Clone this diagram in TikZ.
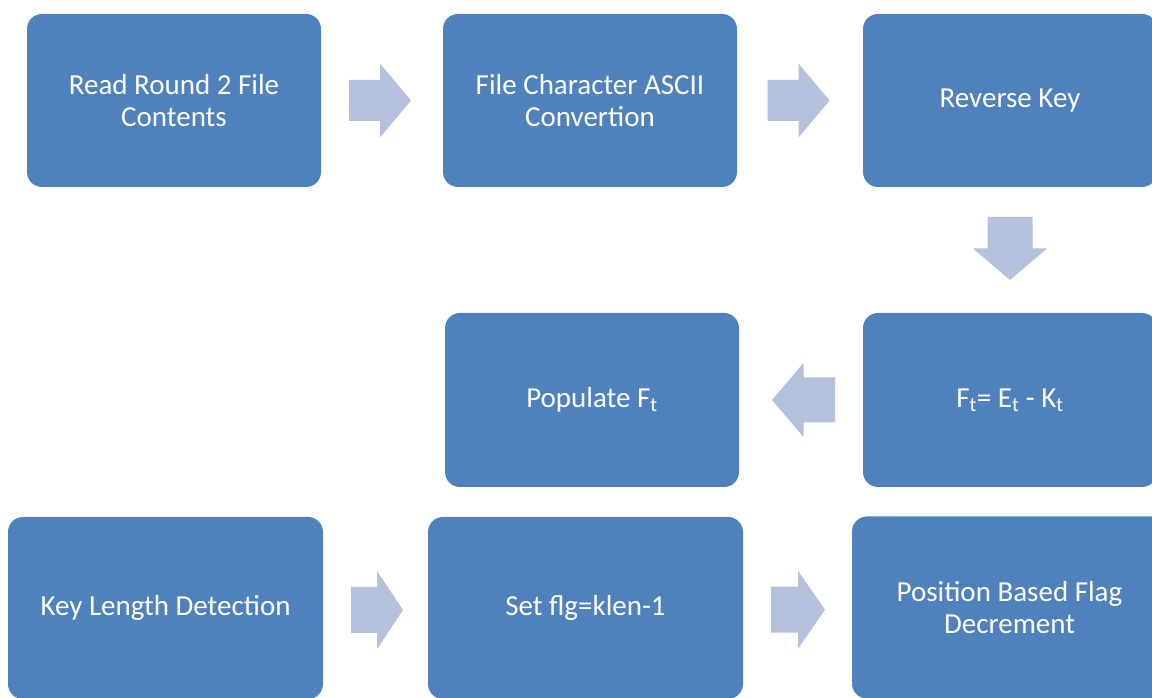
\documentclass[tikz,border=0pt]{standalone}
\usepackage{fontspec}
\setmainfont{Carlito}
\usetikzlibrary{calc}

\definecolor{boxblue}{HTML}{4F81BD}
\definecolor{arrowblue}{HTML}{B3C1DD}

\tikzset{
  stepbox/.style={rectangle, rounded corners=15pt, fill=boxblue, draw=none,
    text=white, align=center, inner sep=0pt,
    font=\fontsize{29}{32}\selectfont},
  % block arrow pointing along +x: half length, shaft half width, head half width
  pics/blockarrow/.style n args={3}{code={
    \fill[arrowblue] (-#1,-#2) -- (0,-#2) -- (0,-#3) -- (#1,0)
      -- (0,#3) -- (0,#2) -- (-#1,#2) -- cycle;
  }}
}

\begin{document}
\begin{tikzpicture}[x=1pt,y=1pt]
\useasboundingbox (0,0) rectangle (1152,698);
\clip (0,0) rectangle (1152,698);

% first row
\node[stepbox, minimum width=294pt, minimum height=173pt] (read) at (174,597.5)
  {Read Round 2 File\\Contents};
\node[stepbox, minimum width=294pt, minimum height=173pt] (ascii) at (590,597.5)
  {File Character ASCII\\Convertion};
\node[stepbox, minimum width=294pt, minimum height=173pt] (rev) at (1010,597.5)
  {Reverse Key};

% second row
\node[stepbox, minimum width=294pt, minimum height=174pt] (pop) at (592,298)
  {Populate F\textsubscript{t}};
\node[stepbox, minimum width=294pt, minimum height=174pt] (sub) at (1010,298)
  {F\textsubscript{t}= E\textsubscript{t} - K\textsubscript{t}};

% third row
\node[stepbox, minimum width=315pt, minimum height=182pt] (klen) at (165.5,90)
  {Key Length Detection};
\node[stepbox, minimum width=315pt, minimum height=182pt] (flg) at (585.5,90)
  {Set flg=klen-1};
\node[stepbox, minimum width=315pt, minimum height=182pt] (dec) at (1009.5,90.5)
  {Position Based Flag\\Decrement};

% block arrows between the steps
\pic at ($(read.east)!0.5!(ascii.west)+(-2,0)$) {blockarrow={31}{20.5}{37}};
\pic at ($(ascii.east)!0.5!(rev.west)+(-1.5,0)$) {blockarrow={31}{20.5}{37}};
\pic[rotate=-90] at ($(rev.south)!0.5!(sub.north)+(0,1.5)$) {blockarrow={31.5}{22.5}{37}};
\pic[rotate=180] at ($(sub.west)!0.5!(pop.east)+(2.5,0)$) {blockarrow={31.5}{22.5}{37}};
\pic at ($(klen.east)!0.5!(flg.west)+(1.5,-2)$) {blockarrow={26}{23}{39}};
\pic at ($(flg.east)!0.5!(dec.west)+(0.5,-2)$) {blockarrow={27}{23}{39}};
\end{tikzpicture}
\end{document}
